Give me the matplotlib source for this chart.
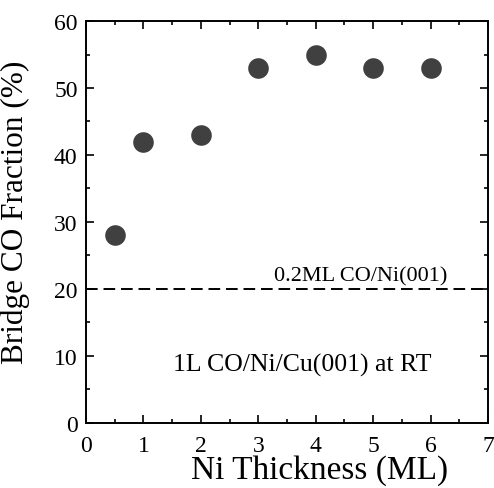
import matplotlib
matplotlib.use("Agg")
import matplotlib.pyplot as plt
from matplotlib.ticker import MultipleLocator

# --- DATA ---
ni_thickness = [0.5, 1, 2, 3, 4, 5, 6]
bridge_frac = [28, 42, 43, 53, 55, 53, 53]
ref_level = 20  # 0.2ML CO/Ni(001)

plt.rcParams['font.family'] = ['Liberation Serif', 'DejaVu Serif']

fig = plt.figure(figsize=(4.94, 4.89), dpi=100)
ax = fig.add_axes([0.174, 0.133, 0.814, 0.822])

ax.scatter(ni_thickness, bridge_frac, s=220, color='#404040', zorder=3, linewidths=0)
ax.axhline(ref_level, color='black', linestyle=(0, (6, 3)), linewidth=1.4)

ax.text(4.79, 22.0, '0.2ML CO/Ni(001)', fontsize=16, ha='center', va='center')
ax.text(3.76, 8.8, '1L CO/Ni/Cu(001) at RT', fontsize=18.5, ha='center', va='center')

ax.set_xlim(0, 7)
ax.set_ylim(0, 60)
ax.xaxis.set_major_locator(MultipleLocator(1))
ax.xaxis.set_minor_locator(MultipleLocator(0.5))
ax.yaxis.set_major_locator(MultipleLocator(10))
ax.yaxis.set_minor_locator(MultipleLocator(5))
ax.tick_params(which='both', direction='in', top=True, right=True, labelsize=17, width=1.2)
ax.tick_params(which='major', length=6)
ax.tick_params(which='minor', length=3)
ax.tick_params(axis='x', which='major', pad=8.5)
ax.tick_params(axis='y', which='major', pad=6)
for sp in ax.spines.values():
    sp.set_linewidth(1.4)

ax.set_xlabel('Ni Thickness (ML)', fontsize=24)
ax.set_ylabel('Bridge CO Fraction (%)', fontsize=22.5)
ax.xaxis.set_label_coords(0.582, -0.078)
ax.yaxis.set_label_coords(-0.138, 0.527)

plt.savefig('out.png', dpi=100)
